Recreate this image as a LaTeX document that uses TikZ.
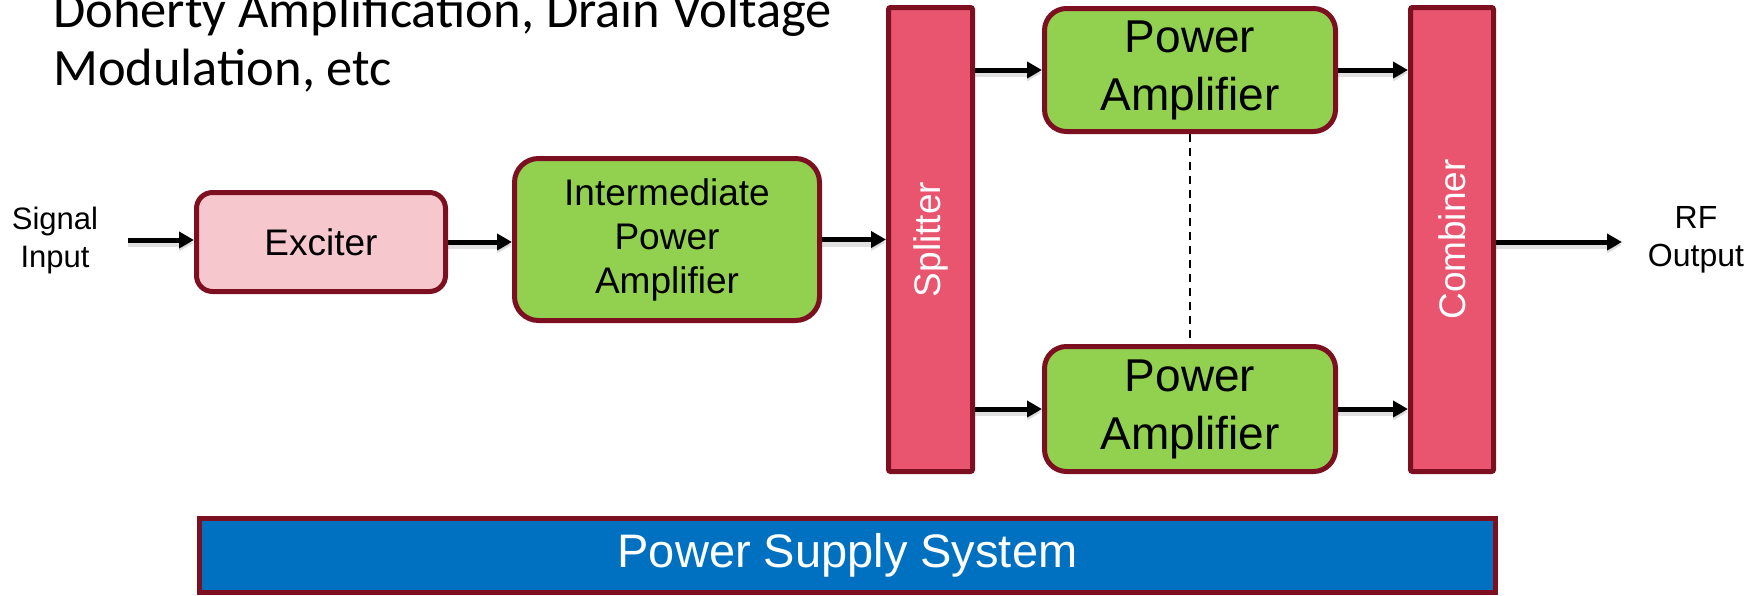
\documentclass[tikz,border=0pt]{standalone}
\usepackage{fontspec}
\setmainfont{Liberation Sans}
\newfontfamily\calibri{Carlito}
\usetikzlibrary{arrows.meta}
\definecolor{bord}{RGB}{125,16,32}
\definecolor{pafill}{RGB}{146,208,80}
\definecolor{exfill}{RGB}{247,199,206}
\definecolor{spfill}{RGB}{233,85,110}
\definecolor{psfill}{RGB}{0,112,192}
\tikzset{
  box/.style={draw=bord, line width=5pt, inner sep=0pt, align=center},
  pabox/.style={box, fill=pafill, rounded corners=22pt, font=\fontsize{46}{58}\selectfont},
  exbox/.style={box, fill=exfill, rounded corners=16pt, font=\fontsize{37}{44}\selectfont},
  ipabox/.style={box, fill=pafill, rounded corners=24pt, font=\fontsize{37}{44}\selectfont},
  barbox/.style={box, fill=spfill, rounded corners=2pt, text=white, font=\fontsize{37}{44}\selectfont},
  psbox/.style={box, fill=psfill, text=white, font=\fontsize{47}{56}\selectfont},
  sidelabel/.style={align=center, inner sep=0pt, font=\fontsize{31}{38}\selectfont},
  titletext/.style={anchor=base west, inner sep=0pt, font=\calibri\fontsize{52.5}{58}\selectfont},
  flow/.style={line width=5pt, -{Triangle[length=15pt,width=16pt]},
    preaction={draw=black, opacity=0.12, line width=8pt, transform canvas={yshift=-3pt}}},
}
\begin{document}
\begin{tikzpicture}[x=1pt,y=-1pt]
\useasboundingbox (0,0) rectangle (1756,595);
% title
\node[titletext] (t1) at (53,27) {Doherty Amplification, Drain Voltage};
\node[titletext] (t2) at (53,85) {Modulation, etc};
% blocks
\node[sidelabel] (sig) at (55,240) {Signal\\Input};
\coordinate (sigstart) at (128,240);
\node[exbox, minimum width=249pt, minimum height=99pt] (exc) at (321,242) {Exciter};
\node[ipabox, minimum width=305pt, minimum height=162pt] (ipa) at (667,239.5) {Intermediate\\Power\\Amplifier};
\node[barbox, minimum width=84pt, minimum height=464pt] (spl) at (930.5,239.5) {\rotatebox{90}{Splitter}};
\node[pabox, minimum width=291pt, minimum height=123pt] (pa1) at (1190,70) {Power\\Amplifier};
\node[pabox, minimum width=291pt, minimum height=125pt] (pa2) at (1190,409) {Power\\Amplifier};
\node[barbox, minimum width=83pt, minimum height=464pt] (cmb) at (1452,239.5) {\rotatebox{90}{Combiner}};
\node[sidelabel, font=\fontsize{32}{38}\selectfont] (rf) at (1696,240) {RF\\Output};
\coordinate (rfend) at (1622,242);
\node[psbox, minimum width=1296pt, minimum height=74pt] (ps) at (847.5,555.5) {Power Supply System};
% connectors
\draw[flow] (sigstart) -- (sigstart -| exc.west);
\draw[flow] (exc.east) -- (exc.east -| ipa.west);
\draw[flow] (ipa.east) -- (ipa.east -| spl.west);
\draw[flow] (spl.east |- pa1.west) -- (pa1.west);
\draw[flow] (spl.east |- pa2.west) -- (pa2.west);
\draw[flow] (pa1.east) -- (pa1.east -| cmb.west);
\draw[flow] (pa2.east) -- (pa2.east -| cmb.west);
\draw[flow] (cmb.east |- rfend) -- (rfend);
\draw[line width=1.5pt, dash pattern=on 8pt off 6pt] (pa1.south) -- (pa2.north);
\end{tikzpicture}
\end{document}
